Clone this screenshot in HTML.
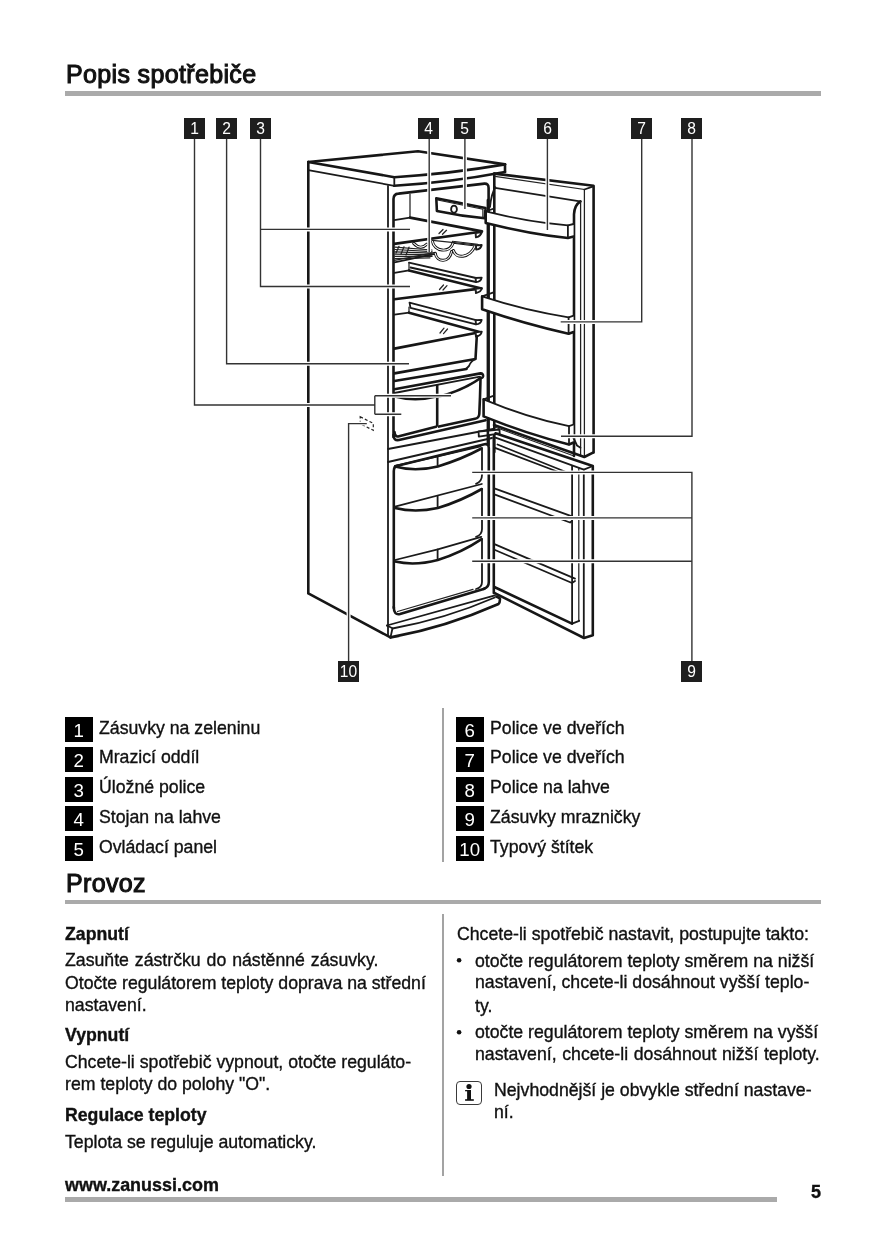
<!DOCTYPE html>
<html><head><meta charset="utf-8">
<style>
html,body{margin:0;padding:0;background:#fff;}
body{width:875px;height:1240px;position:relative;overflow:hidden;font-family:"Liberation Sans",sans-serif;color:#111;-webkit-font-smoothing:antialiased;}
.t,.h,.lb,.fb{will-change:transform;}
.t{position:absolute;white-space:nowrap;font-size:17.7px;line-height:1;-webkit-text-stroke:0.35px #111;}
.b{font-weight:bold;}
.h{position:absolute;white-space:nowrap;font-size:25px;line-height:1;letter-spacing:0.35px;-webkit-text-stroke:1.05px #111;}
.rule{position:absolute;background:#aaa;height:4px;}
.vd{position:absolute;background:#a3a3a3;width:2px;}
.lb{position:absolute;width:27.5px;height:25px;background:#000;color:#fff;font-size:18.7px;line-height:28px;text-align:center;overflow:hidden;}
.fb{position:absolute;width:21px;height:20.5px;background:#1e1e1e;color:#fff;font-size:15.6px;line-height:21px;text-align:center;}
.bul{position:absolute;width:4.6px;height:4.6px;border-radius:50%;background:#111;}
</style></head>
<body>
<!-- Heading 1 -->
<div class="h" style="left:65.8px;top:61.9px;">Popis spotřebiče</div>
<div class="rule" style="left:65px;top:91.2px;width:756px;height:4.4px;"></div>

<!-- FIGURE -->
<div id="fig">
<svg style="position:absolute;left:0;top:0" width="875" height="700" viewBox="0 0 875 700">
<defs><style>
.k{stroke:#161616;stroke-width:2.6;fill:none;stroke-linecap:round;stroke-linejoin:round}
.m{stroke:#1a1a1a;stroke-width:1.8;fill:none;stroke-linecap:round;stroke-linejoin:round}
.n{stroke:#222;stroke-width:1.25;fill:none;stroke-linecap:round}
.w{fill:#fff}
.hl{stroke:#fff;stroke-width:6;fill:none}
.ld{stroke:#333;stroke-width:1.4;fill:none}
</style></defs>
<!-- LID -->
<path class="k" d="M308.3,162 L418,151.3 L505,164.4"/>
<path class="k" d="M308.3,162 L394.3,177.2 Q450,173.8 505,164.4"/>
<path class="m" d="M308.3,170.2 L394.3,185.8"/>
<path class="k" d="M394.3,185.8 Q450,182.4 505,172"/>
<path class="m" d="M394.3,177.2 V185.8"/>
<path class="k" d="M505,164.4 V172"/>
<!-- CABINET -->
<path class="k" d="M308.3,162 V593.4 L390.5,637.4"/>
<path class="m" d="M388,186 V636"/>
<!-- upper liner -->
<path class="k" d="M393.5,437 V199 Q393.5,194 398.5,193.6 L484.5,183.6 Q488.6,183.4 488.6,188 V445"/>
<path class="k" d="M393.5,435 Q393.5,441 399,440 L485.6,420.3"/>
<!-- back-left corner -->
<path class="n" d="M410,194 V217.6"/>
<!-- shelf 1 -->
<path class="m" d="M394.2,220.2 L410,217.6"/>
<path class="k" d="M410,217.6 L482,231.4"/>
<path class="k" d="M394.2,243.9 L477,232.3"/>
<path class="m w" d="M475.6,233.2 L481.8,232.0 Q481.2,236.0 475.9,237.4 Z"/><path class="n" d="M475.6,233.2 V237.4"/>
<path class="n" d="M439,233.5 L443,229.5 M442.5,234.3 L446.5,230.3"/>
<!-- wine rack grid -->
<path class="n" d="M395,247.2 L432,250 M395,249.5 L432,251.6 M395,251.8 L432,253.2 M395,254.1 L432,254.8 M395,256.4 L432,256.4 M395,258.7 L430,257.8"/>
<path class="n" d="M399,246.3 L396,253 M404,246.8 L401,254 M409,247.2 L406,255" stroke-width="0.9"/>
<path class="m" d="M394.5,262.4 L436,253.7"/>
<path class="n" d="M394.5,260.4 L434,252.6"/>
<!-- bottle cradles -->
<g fill="none" stroke-linecap="round">
<path d="M413.7,243.4 Q420.5,250.5 427,244.2 M432.4,241.4 C434,251 449.5,254.5 453.4,242.3 L477.5,245.3 M435.2,253.3 C437,262.5 449,263.5 451.6,251.5 M453.4,250.5 C456,259 469,258.5 475,246.3" stroke="#111" stroke-width="3"/>
<path d="M413.7,243.4 Q420.5,250.5 427,244.2 M432.4,241.4 C434,251 449.5,254.5 453.4,242.3 L477.5,245.3 M435.2,253.3 C437,262.5 449,263.5 451.6,251.5 M453.4,250.5 C456,259 469,258.5 475,246.3" stroke="#fff" stroke-width="1.1"/>
</g>
<path class="n" d="M432.4,240.3 L476,244.8"/>
<path class="m w" d="M476.0,245.4 L481.7,245.0 Q481.1,249.0 476.3,249.6 Z"/><path class="n" d="M476.0,245.4 V249.6"/>
<!-- rail 1 -->
<path class="m" d="M409,262.7 L476,278 M410.5,267.5 L476,282"/><path class="m w" d="M475.6,278.0 L481.7,277.6 Q481.1,281.6 475.9,282.2 Z"/><path class="n" d="M475.6,278.0 V282.2"/>
<path class="n" d="M409,262.7 V270.3"/>
<path class="m" d="M394.4,272.8 L409,270.3"/>
<!-- shelf 2 -->
<path class="k" d="M409,270.6 L481.5,288.4"/>
<path class="k" d="M394.4,299.2 L475.5,289.1"/>
<path class="m w" d="M475.6,288.8 L481.8,288.2 Q481.2,292.2 475.9,293.0 Z"/><path class="n" d="M475.6,288.8 V293.0"/>
<path class="n" d="M439.5,289.5 L443.5,285 M443,290 L447,285.6"/>
<!-- rail 2 -->
<path class="m" d="M409.5,302.7 L476,320.2 M410.5,307.8 L476,324.3 M409.5,302.7 L410.5,307.8"/><path class="m w" d="M475.6,320.2 L481.7,319.8 Q481.1,323.8 475.9,324.4 Z"/><path class="n" d="M475.6,320.2 V324.4"/>
<path class="n" d="M409,307 V312.7"/>
<path class="m" d="M394.4,314.6 L409,312.7"/>
<!-- shelf 3 + chiller box -->
<path class="k" d="M409,312.7 L480.5,332.2"/>
<path class="k" d="M394.4,348.6 L475.5,333"/>
<path class="m w" d="M475.6,332.4 L481.8,331.6 Q481.2,335.6 475.9,336.6 Z"/><path class="n" d="M475.6,332.4 V336.6"/>
<path class="n" d="M440,333 L444,328.2 M443.5,333.6 L447.5,329"/>
<path class="k" d="M476.8,336 L475.5,359 L394.4,373.4"/>
<path class="m" d="M475.5,359 Q470.5,361.5 469,366 L466,369"/>
<path class="k" d="M394.4,381 L466.5,369"/>
<!-- crisper cover -->
<path class="k" d="M394.4,389.3 L480.5,373.4 Q483.5,373.5 483,376.5 Q482.5,378.2 480,378.2"/>
<path class="m" d="M394.4,393 L480,376.6"/>
<!-- crisper drawers -->
<path class="k" d="M437.2,385.5 V425.4"/>
<path class="k" d="M395,396.5 Q415,402 436.2,396.5"/>
<path class="k" d="M438.5,396.8 Q463,390.5 480.5,378"/>
<path class="k" d="M480.5,378.5 Q480.2,395 479.3,414 Q479,418 475,418.8 L439,426.6"/>
<path class="k" d="M394.5,432 Q395,437.5 399,436.2 L436,426.8"/>
<!-- cabinet right verticals -->
<path class="k" d="M494.3,173.6 V452"/>
<!-- mid frame -->
<path class="m" d="M388,449 L493,429"/>
<path class="m" d="M388,462 L492,438"/>
<!-- hinge -->
<path class="m w" d="M478.6,431.5 L499.5,429.6 L499.7,433.5 L478.8,436.6 Z"/>
<!-- freezer liner -->
<path class="k" d="M393.8,608 V471 Q393.8,466 398.5,465.4 L484.5,444.2 Q488.8,443.4 488.8,448 V582 Q488.8,587.3 484,588.8"/>
<path class="k" d="M493.8,436.7 V593"/>
<!-- drawers -->
<path class="m" d="M395,465.8 L437.8,456.3 L480.5,446.3"/>
<path class="k" d="M395,466.5 Q415,472 437.8,466.4 Q461,459.5 481.5,448.5"/>
<path class="m" d="M437.6,456.3 V466.2"/>
<path class="m" d="M482,448 V475 Q482,481.5 476,483.8"/>
<path class="m" d="M395,506.6 L481.8,484"/>
<path class="k" d="M395,508 Q415,513 437.8,508 Q461,501 481.8,489"/>
<path class="m" d="M437.6,496.6 V507.9"/>
<path class="m" d="M482,489 V529 Q482,535 476,536.8"/>
<path class="m" d="M395,560 L437.8,549.4 L481.3,536.8"/>
<path class="k" d="M395,561.6 Q415,566 437.8,560 Q461,553 481.6,539.2"/>
<path class="m" d="M437.6,549.4 V559.6"/>
<path class="m" d="M482,539 V582 Q482,587.5 476,589"/>
<!-- freezer liner bottom -->
<path class="k" d="M393.8,607 Q393.8,615.5 400,614 L484.5,588.7"/>
<path class="n" d="M397.5,611.5 L473,589.3"/>
<!-- plinth -->
<path class="m" d="M386.9,625.5 L495,595.3"/>
<path class="m" d="M392.5,628.5 Q445,619 494.8,597.5"/>
<path class="k" d="M390.5,637.4 Q445,627.5 498.5,604 Q500.2,602 499.9,598.4 L496.5,596.5"/>
<path class="m" d="M386.9,625.5 L392.5,628.2 L390.5,637.4"/>
<!-- control panel -->
<path class="k" d="M436.3,198.2 L485.5,208 L484.9,218.2 Q460,216 436.9,211 Z"/>
<path class="n" d="M437.6,200 L482.9,209.2 V218"/>
<ellipse cx="454" cy="209.2" rx="2.9" ry="3.6" class="m"/>
<!-- UPPER DOOR -->
<path class="k" d="M494.3,173.6 L593.6,185.7 V452.4"/>
<path class="n" d="M495,176.4 L584.4,189.5 V457"/>
<path class="m" d="M584.4,189.5 L593.3,186.3"/>
<path class="m" d="M495,187.9 L580,201.4"/>
<path class="k" d="M580.5,201.4 Q574.5,205 574,214.3 V456"/>
<path class="n" d="M580.6,201.4 V456"/>
<path class="k" d="M487.9,200 V445"/>
<path class="k" d="M494,425 L584.3,457 L593,452.6"/>
<path class="n" d="M494.6,427 L574,456"/>
<!-- door gasket curve near hinge -->
<path class="m" d="M490,207 Q491.5,193 495.4,187.3"/>
<!-- door shelf 6 -->
<path class="w" d="M485.7,211.4 Q530,222 573.6,225 L573.6,237.6 Q530,233.5 485.7,222.9 Z"/>
<path class="m" d="M485.7,211.4 Q530,222.5 567.9,225.3 L573.6,224 M494,208.5 L485.7,211.4"/>
<path class="k" d="M485.7,211.4 V222.9 Q530,234 567.9,238 L573.6,236.5"/>
<path class="m" d="M567.9,225.3 V238"/>
<!-- door shelf 7 -->
<path class="w" d="M482.1,296.4 Q525,310 573.6,315.7 L573.6,331.6 L568,333.6 Q525,323 482.1,309.3 Z"/>
<path class="m" d="M482.1,296.4 Q525,310.5 568.6,317.3 L573.6,315.7 M493.6,292.3 L482.1,296.4"/>
<path class="k" d="M482.1,296.4 V309.3 Q525,324 568.6,333.8 L573.6,332"/>
<path class="m" d="M568.6,317.3 V333.8"/>
<!-- door shelf 8 -->
<path class="w" d="M483.6,399.3 Q527,417 573.6,424.5 L573.6,442.3 L568.5,444.3 Q527,433 483.6,416.4 Z"/>
<path class="m" d="M483.6,399.3 Q527,417.5 569,426.2 L573.6,424.5 M494,395.6 L483.6,399.3"/>
<path class="k" d="M483.6,399.3 V416.4 Q527,434 569,444.5 L573.6,442.5"/>
<path class="m" d="M569,426.2 V444.5"/>
<path class="m" d="M573.5,438 L577,445.5 L580.5,447.8"/>
<!-- LOWER DOOR -->
<path class="k" d="M495.5,433.3 L592.8,466 V635.2 L584,638 L494.3,592.9"/>
<path class="m" d="M495.5,437.6 L583.8,469.6 V638"/>
<path class="m" d="M583.8,469.6 L592.8,466"/>
<path class="n" d="M578.8,468 V621"/>
<path class="m" d="M572.1,466 V623.6 L579.2,620.8"/>
<path class="k" d="M494.3,587 L572,623.6"/>
<!-- lower door shelves -->
<path class="m" d="M497.5,444.5 L566,472 M495,447.8 L561,473"/>
<path class="m" d="M495,488.6 L572,516.4 M495,494.7 L570,522.5 L572,521"/>
<path class="m" d="M495,544.3 L575,578.6 M495,550 L572,583 L575,581"/>
<!-- rating plate dashed -->
<path d="M360.2,416.8 L373.3,423.3 L373.3,430.3 L360.2,423.8 Z" fill="none" stroke="#222" stroke-width="1.2" stroke-dasharray="3,2.2"/>
</svg>
<svg style="position:absolute;left:0;top:0" width="875" height="700" viewBox="0 0 875 700">
<g stroke="#fff" stroke-width="4" fill="none">
<path d="M194.5,141 V405 H374.8 M374.8,395.8 V414.3 M374.8,395.8 H451 M374.8,414.3 H401.3"/>
<path d="M226.6,141 V363.7 H409"/>
<path d="M260.5,141 V286.5 H410 M260.5,229.4 H410"/>
<path d="M429.2,141 V252"/>
<path d="M464.9,141 V209"/>
<path d="M547.4,141 V230"/>
<path d="M641.7,141 V321.9 H560.7"/>
<path d="M692,141 V436.3 H561"/>
<path d="M691.9,659 V472.4 H472.2 M691.9,517.9 H472.2 M691.9,561.3 H472.2"/>
<path d="M348.6,659 V423.6 H366.8"/>
</g>
<g stroke="#333" stroke-width="1.4" fill="none">
<path d="M194.5,139 V405 H374.8 M374.8,395.8 V414.3 M374.8,395.8 H451 M374.8,414.3 H401.3"/>
<path d="M226.6,139 V363.7 H409"/>
<path d="M260.5,139 V286.5 H410 M260.5,229.4 H410"/>
<path d="M429.2,139 V252"/>
<path d="M464.9,139 V209"/>
<path d="M547.4,139 V230"/>
<path d="M641.7,139 V321.9 H560.7"/>
<path d="M692,139 V436.3 H561"/>
<path d="M691.9,661 V472.4 H472.2 M691.9,517.9 H472.2 M691.9,561.3 H472.2"/>
<path d="M348.6,661 V423.6 H366.8"/>
</g>
</svg>
<div class="fb" style="left:183.8px;top:118.2px;">1</div>
<div class="fb" style="left:216px;top:118.2px;">2</div>
<div class="fb" style="left:249.8px;top:118.2px;">3</div>
<div class="fb" style="left:418.3px;top:118.2px;">4</div>
<div class="fb" style="left:454.3px;top:118.2px;">5</div>
<div class="fb" style="left:536.6px;top:118.2px;">6</div>
<div class="fb" style="left:631px;top:118.2px;">7</div>
<div class="fb" style="left:681px;top:118.2px;">8</div>
<div class="fb" style="left:338.2px;top:661.1px;">10</div>
<div class="fb" style="left:681.3px;top:661.1px;">9</div>

</div>

<!-- Legend -->
<div class="lb" style="left:65px;top:717px;">1</div>
<div class="lb" style="left:65px;top:746.8px;">2</div>
<div class="lb" style="left:65px;top:776.5px;">3</div>
<div class="lb" style="left:65px;top:806.3px;">4</div>
<div class="lb" style="left:65px;top:836px;">5</div>
<div class="t" style="left:99px;top:719.6px;">Zásuvky na zeleninu</div>
<div class="t" style="left:99px;top:749.4px;">Mrazicí oddíl</div>
<div class="t" style="left:99px;top:779.1px;">Úložné police</div>
<div class="t" style="left:99px;top:808.9px;">Stojan na lahve</div>
<div class="t" style="left:99px;top:838.6px;">Ovládací panel</div>
<div class="vd" style="left:442px;top:708px;height:154px;"></div>
<div class="lb" style="left:456px;top:717px;">6</div>
<div class="lb" style="left:456px;top:746.8px;">7</div>
<div class="lb" style="left:456px;top:776.5px;">8</div>
<div class="lb" style="left:456px;top:806.3px;">9</div>
<div class="lb" style="left:456px;top:836px;">10</div>
<div class="t" style="left:490px;top:719.6px;">Police ve dveřích</div>
<div class="t" style="left:490px;top:749.4px;">Police ve dveřích</div>
<div class="t" style="left:490px;top:779.1px;">Police na lahve</div>
<div class="t" style="left:490px;top:808.9px;">Zásuvky mrazničky</div>
<div class="t" style="left:490px;top:838.6px;">Typový štítek</div>

<!-- Heading 2 -->
<div class="h" style="left:65.8px;top:871.1px;">Provoz</div>
<div class="rule" style="left:65px;top:899.8px;width:756px;height:4.2px;"></div>

<!-- Left column -->
<div class="t b" style="left:65px;top:925.5px;">Zapnutí</div>
<div class="t" style="left:65px;top:952.0px;word-spacing:1px;">Zasuňte zástrčku do nástěnné zásuvky.</div>
<div class="t" style="left:65px;top:974.5px;">Otočte regulátorem teploty doprava na střední</div>
<div class="t" style="left:65px;top:996.5px;">nastavení.</div>
<div class="t b" style="left:65px;top:1027.4px;">Vypnutí</div>
<div class="t" style="left:65px;top:1054.1px;">Chcete-li spotřebič vypnout, otočte reguláto-</div>
<div class="t" style="left:65px;top:1076.2px;">rem teploty do polohy "O".</div>
<div class="t b" style="left:65px;top:1107.4px;">Regulace teploty</div>
<div class="t" style="left:65px;top:1134.1px;">Teplota se reguluje automaticky.</div>

<div class="vd" style="left:442px;top:914px;height:262px;"></div>

<!-- Right column -->
<div class="t" style="left:457px;top:925.6px;">Chcete-li spotřebič nastavit, postupujte takto:</div>
<svg style="position:absolute;left:0;top:0" width="875" height="1240"><circle cx="459.1" cy="960.3" r="2.3" fill="#111"/><circle cx="459.1" cy="1032.2" r="2.3" fill="#111"/></svg>
<div class="t" style="left:475px;top:953.2px;">otočte regulátorem teploty směrem na nižší</div>
<div class="t" style="left:475px;top:974.1px;">nastavení, chcete-li dosáhnout vyšší teplo-</div>
<div class="t" style="left:475px;top:997.6px;">ty.</div>

<div class="t" style="left:475px;top:1024.3px;">otočte regulátorem teploty směrem na vyšší</div>
<div class="t" style="left:475px;top:1046.4px;word-spacing:0.7px;">nastavení, chcete-li dosáhnout nižší teploty.</div>
<div style="position:absolute;left:456px;top:1080.8px;width:24.4px;height:22.6px;border:1.1px solid #3a3a3a;border-radius:4px;"></div>
<svg style="position:absolute;left:0;top:0" width="875" height="1240" viewBox="0 0 875 1240"><g fill="#111"><circle cx="469" cy="1086.5" r="2.6"/><rect x="467.1" y="1090" width="3.9" height="10"/><rect x="465.1" y="1090" width="2.6" height="1.3"/><rect x="465.1" y="1099.2" width="8.7" height="1.6"/></g></svg>
<div class="t" style="left:494px;top:1081.6px;">Nejvhodnější je obvykle střední nastave-</div>
<div class="t" style="left:494px;top:1104.0px;">ní.</div>

<!-- Footer -->
<div class="t b" style="left:65px;top:1176.8px;font-size:17.95px;">www.zanussi.com</div>
<div class="rule" style="left:65px;top:1197.2px;width:712px;height:4.4px;"></div>
<div class="t b" style="left:811px;top:1183px;font-size:18px;">5</div>
</body></html>
